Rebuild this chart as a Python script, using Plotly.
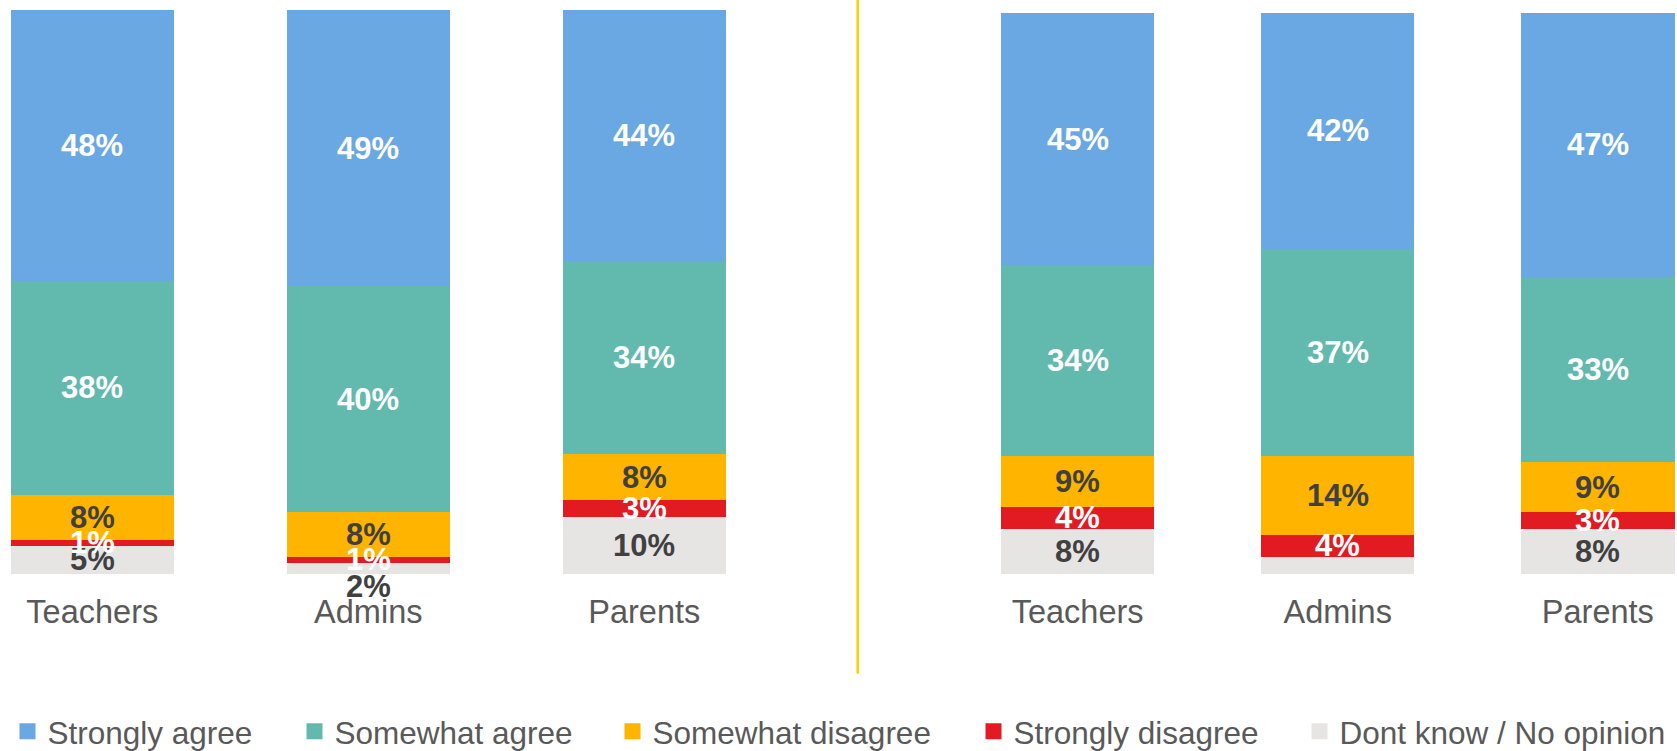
import plotly.graph_objects as go

# ---------------- data ----------------
categories = ["Teachers", "Admins", "Parents"]
series_names = ["Strongly agree", "Somewhat agree", "Somewhat disagree",
                "Strongly disagree", "Dont know / No opinion"]

left_strongly_agree = [48, 49, 44]
left_somewhat_agree = [38, 40, 34]
left_somewhat_disagree = [8, 8, 8]
left_strongly_disagree = [1, 1, 3]
left_dont_know = [5, 2, 10]

right_strongly_agree = [45, 42, 47]
right_somewhat_agree = [34, 37, 33]
right_somewhat_disagree = [9, 14, 9]
right_strongly_disagree = [4, 4, 3]
right_dont_know = [8, 3, 8]

# ---------------- style ----------------
colors = ["#69A8E3", "#62B9AE", "#FFB400", "#E21B22", "#E7E4E4"]
label_colors = ["white", "white", "#404040", "white", "#404040"]
FONT = "Liberation Sans, Arial, sans-serif"
TEXT_GRAY = "#595959"

left_series = [left_strongly_agree, left_somewhat_agree, left_somewhat_disagree,
               left_strongly_disagree, left_dont_know]
right_series = [right_strongly_agree, right_somewhat_agree, right_somewhat_disagree,
                right_strongly_disagree, right_dont_know]

# labels not shown in the original (panel, series index, category index)
hidden_labels = {("right", 4, 1)}
# labels pushed below their segment (px)
label_shift = {("left", 4, 1): -18}

fig = go.Figure()

order = [4, 3, 2, 1, 0]  # bottom to top stacking
for panel, data, xa, ya in [("left", left_series, "x", "y"), ("right", right_series, "x2", "y2")]:
    for s in order:
        fig.add_trace(go.Bar(
            x=list(range(len(categories))), y=data[s], name=series_names[s],
            marker=dict(color=colors[s], line=dict(width=0)),
            xaxis=xa, yaxis=ya, showlegend=False, hoverinfo="skip",
        ))
    # labels at middle of each normalised segment
    for c in range(len(categories)):
        total = sum(d[c] for d in data)
        cum = 0.0
        for s in order:
            v = data[s][c] / total * 100
            mid = cum + v / 2
            cum += v
            if (panel, s, c) in hidden_labels:
                continue
            fig.add_annotation(
                x=c, y=mid, xref=xa, yref=ya, text=f"<b>{data[s][c]}%</b>",
                showarrow=False, yshift=label_shift.get((panel, s, c), 0),
                font=dict(family=FONT, size=31, color=label_colors[s]),
            )

# legends (one per entry, positioned like the original)
legend_text_x = [48, 335, 653, 1014, 1340]
for i, name in enumerate(series_names):
    key = "legend" if i == 0 else f"legend{i+1}"
    fig.add_trace(go.Scatter(
        x=[None], y=[None], mode="markers", name=name,
        marker=dict(symbol="square", size=17, color=colors[i]),
        legend=key, showlegend=True, xaxis="x", yaxis="y",
    ))
    fig.layout[key] = dict(
        x=(legend_text_x[i] - 40.5) / 1677, y=-0.279, xanchor="left", yanchor="middle",
        orientation="h", bgcolor="rgba(0,0,0,0)", borderwidth=0,
        font=dict(family=FONT, size=31.5, color=TEXT_GRAY), itemwidth=30,
    )

axis_common = dict(tickvals=[0, 1, 2], ticktext=categories, ticks="", showline=False,
                   showgrid=False, zeroline=False,
                   tickfont=dict(family=FONT, size=32.5, color=TEXT_GRAY))

fig.update_layout(
    width=1677, height=751,
    margin=dict(l=0, r=0, t=10, b=177, autoexpand=False),
    barmode="stack", barnorm="percent", bargap=0.41,
    plot_bgcolor="white", paper_bgcolor="white",
    font=dict(family=FONT, color=TEXT_GRAY),
    xaxis=dict(domain=[0, 0.5], range=[-0.3344, 2.7036], anchor="y",
               ticklabelstandoff=15, automargin=False, **axis_common),
    xaxis2=dict(domain=[0.5, 1], range=[-0.9193, 2.3045], anchor="y2",
                ticklabelstandoff=15, automargin=False, **axis_common),
    yaxis=dict(domain=[0, 1], range=[0, 100], visible=False, anchor="x"),
    yaxis2=dict(domain=[0, 1], range=[0, 100.53], visible=False, anchor="x2"),
    shapes=[dict(type="line", xref="paper", yref="paper", x0=857.7 / 1677, x1=857.7 / 1677,
                 y0=1.0177, y1=-0.177, line=dict(color="#FFCC00", width=2.5))],
)

fig.write_html("out.html", post_script="document.body.style.margin='0';",
               config={"displayModeBar": False})
